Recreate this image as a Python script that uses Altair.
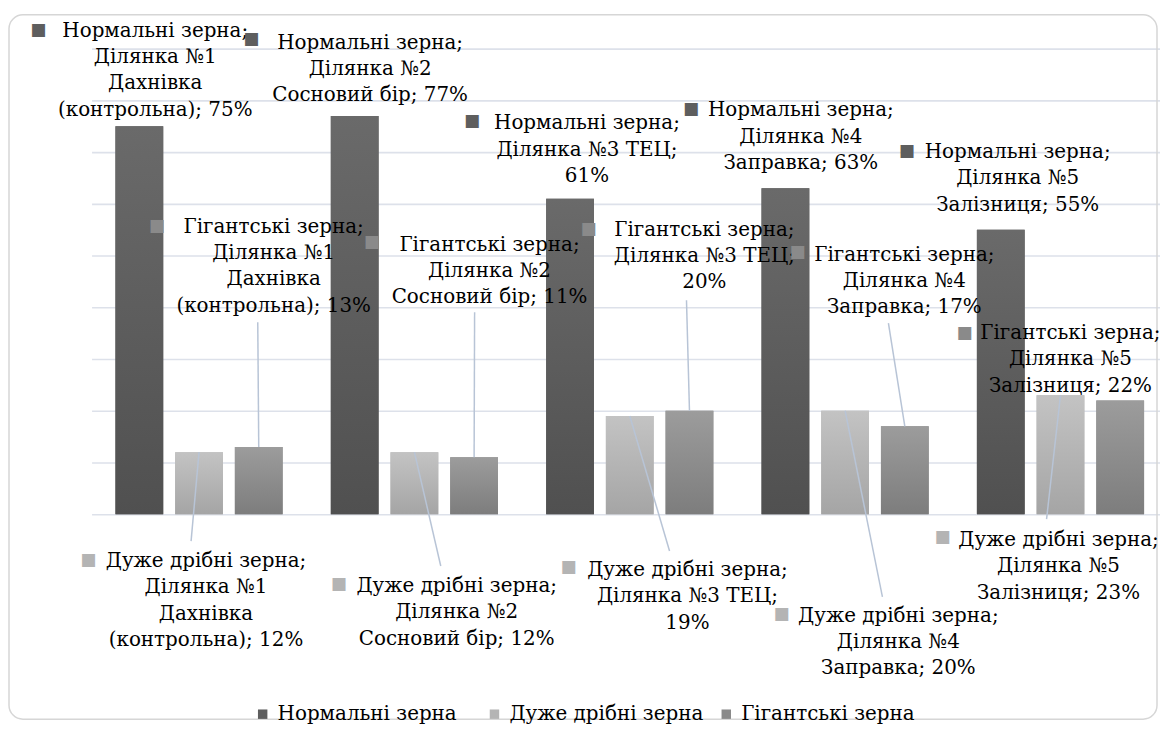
import altair as alt
import pandas as pd

# ---------------- data ----------------
CATEGORIES = [
    "Ділянка №1 Дахнівка (контрольна)",
    "Ділянка №2 Сосновий бір",
    "Ділянка №3 ТЕЦ",
    "Ділянка №4 Заправка",
    "Ділянка №5 Залізниця",
]
# how Excel wrapped each category name inside the data labels
CATEGORY_LINES = [
    ["Ділянка №1", "Дахнівка", "(контрольна)"],
    ["Ділянка №2", "Сосновий бір"],
    ["Ділянка №3 ТЕЦ"],
    ["Ділянка №4", "Заправка"],
    ["Ділянка №5", "Залізниця"],
]
VALUE_ON_OWN_LINE = [False, False, True, False, False]

SERIES = ["Нормальні зерна", "Дуже дрібні зерна", "Гігантські зерна"]
NORMAL = [75, 77, 61, 63, 55]
VERY_FINE = [12, 12, 19, 20, 23]
GIANT = [13, 11, 20, 17, 22]
Y_TICKS = [0, 0.1, 0.2, 0.3, 0.4, 0.5, 0.6, 0.7, 0.8, 0.9]

# ---------------- styles ----------------
FONT = "DejaVu Serif"
FS = 20
LH = 26.5
SOLID = ["#5e5e5e", "#b4b4b4", "#8a8a8a"]
GRAD = [("#6a6a6a", "#505050"), ("#c3c3c3", "#a5a5a5"), ("#9c9c9c", "#7d7d7d")]
LEADER = "#b8c4d6"
GRID = "#dde1ea"

rows = []
for si, (s, vals) in enumerate(zip(SERIES, [NORMAL, VERY_FINE, GIANT])):
    for gi, (c, v) in enumerate(zip(CATEGORIES, vals)):
        cl = CATEGORY_LINES[gi]
        pct = f"{v}%"
        if VALUE_ON_OWN_LINE[gi]:
            lines = [s + ";"] + cl[:-1] + [cl[-1] + ";", pct]
        else:
            lines = [s + ";"] + cl[:-1] + [cl[-1] + "; " + pct]
        rows.append({"category": c, "series": s, "value": v / 100,
                     "label": "\n".join(lines), "si": si, "gi": gi})
df = pd.DataFrame(rows)

# label placement offsets (px) relative to the top centre of each bar:
# (text dx, text dy, key dx, key dy, leader end dx, leader end dy or None)
LAYOUT = {
    (0, 0): (16, -90, -101, -97, None, None),
    (0, 1): (15.5, -67.6, -103.5, -77.6, None, None),
    (0, 2): (17, -69.8, -98, -77.8, None, None),
    (0, 3): (15.5, -72.4, -94.5, -79.4, None, None),
    (0, 4): (17, -72, -94, -79, None, None),
    (1, 0): (7, 115.4, -111, 108.4, -8, 89.4),
    (1, 1): (42.5, 140.4, -75.5, 132.4, 26.5, 114.4),
    (1, 2): (58, 160.8, -61, 151.8, 40, 135.8),
    (1, 3): (53.5, 212, -63.5, 204, 37.5, 187),
    (1, 4): (-2, 151.6, -118, 142.6, -14, 124.6),
    (2, 0): (15, -215.4, -102, -222.4, -1, -125.4),
    (2, 1): (15.5, -207.8, -102.5, -216.8, 0.5, -145.8),
    (2, 2): (15, -176, -101, -183, -3, -111),
    (2, 3): (-0.5, -166.6, -107.5, -175.6, -16.5, -103.6),
    (2, 4): (-50, -61.6, -156, -67.6, None, None),
}

X = alt.X("category:N", sort=CATEGORIES,
          scale=alt.Scale(domain=CATEGORIES, range=[0, 1082],
                          paddingInner=0.2237, paddingOuter=0.1109),
          axis=None)
XO = alt.XOffset("series:N",
                 scale=alt.Scale(domain=SERIES, paddingInner=0.2, paddingOuter=0))
Y = alt.Y("value:Q",
          scale=alt.Scale(domain=[0, 0.9], nice=False, zero=True),
          axis=alt.Axis(values=Y_TICKS, grid=True, labels=False, ticks=False,
                        domain=False, title=None, gridColor=GRID, gridWidth=1.6))

base = alt.Chart(df)
layers = []

# frame around the whole chart area
frame = alt.Chart(pd.DataFrame({"f": [0]})).mark_rect(
    fillOpacity=0, stroke="#d6d6d6", strokeWidth=1.5, cornerRadius=14
).encode(x=alt.value(-83), x2=alt.value(1071), y=alt.value(-34), y2=alt.value(674))
layers.append(frame)

# solid bars (carry the legend)
solid = base.mark_bar().encode(
    x=X, xOffset=XO, y=Y,
    color=alt.Color("series:N", scale=alt.Scale(domain=SERIES, range=SOLID),
                    legend=alt.Legend(orient="none", direction="horizontal",
                                      legendX=162, legendY=659, title=None,
                                      symbolType="square", symbolSize=90,
                                      symbolStrokeWidth=0, labelFont=FONT,
                                      labelFontSize=FS, labelColor="#000",
                                      labelOffset=5, columnPadding=12,
                                      gridAlign="all", labelLimit=400)),
)
layers.append(solid)

# gradient bars on top
for si, s in enumerate(SERIES):
    top, bot = GRAD[si]
    g = alt.Gradient(gradient="linear",
                     stops=[alt.GradientStop(color=top, offset=0),
                            alt.GradientStop(color=bot, offset=1)],
                     x1=0, x2=0, y1=0, y2=1)
    layers.append(base.transform_filter(alt.datum.series == s)
                  .mark_bar(color=g).encode(x=X, xOffset=XO, y=Y))

# leader lines (start at bar top, end offset from it, both through the scales)
for (si, gi), (tdx, tdy, kdx, kdy, ldx, ldy) in LAYOUT.items():
    if ldx is None:
        continue
    sel = (alt.datum.series == SERIES[si]) & (alt.datum.category == CATEGORIES[gi])
    xexpr = ("scale('x', datum.category) + scale('xOffset', datum.series)"
             f" + bandwidth('xOffset') / 2 + ({ldx})")
    yexpr = f"scale('y', datum.value) + ({ldy})"
    layers.append(base.transform_filter(sel).mark_rule(color=LEADER, strokeWidth=1.5).encode(
        x=X, xOffset=XO, y=Y,
        x2=alt.X2Value(value=alt.ExprRef(expr=xexpr)),
        y2=alt.Y2Value(value=alt.ExprRef(expr=yexpr)),
    ))

# data labels + their legend keys
for (si, gi), (tdx, tdy, kdx, kdy, ldx, ldy) in LAYOUT.items():
    sel = (alt.datum.series == SERIES[si]) & (alt.datum.category == CATEGORIES[gi])
    layers.append(base.transform_filter(sel).mark_text(
        dx=tdx, dy=tdy, align="center", baseline="alphabetic", lineBreak="\n",
        lineHeight=LH, font=FONT, fontSize=FS, color="#000"
    ).encode(x=X, xOffset=XO, y=Y, text="label:N"))
    layers.append(base.transform_filter(sel).mark_text(
        dx=kdx, dy=kdy, align="center", baseline="middle",
        font="DejaVu Sans", fontSize=17, color=SOLID[si], text="■"
    ).encode(x=X, xOffset=XO, y=Y))

chart = alt.layer(*layers).properties(
    width=1068, height=468,
    autosize=alt.AutoSizeParams(type="none"),
    padding={"left": 84, "top": 39, "right": 6, "bottom": 209},
    background="white",
).configure_view(stroke=None)

chart.save("out.html", embed_options={"renderer": "svg", "actions": False})
